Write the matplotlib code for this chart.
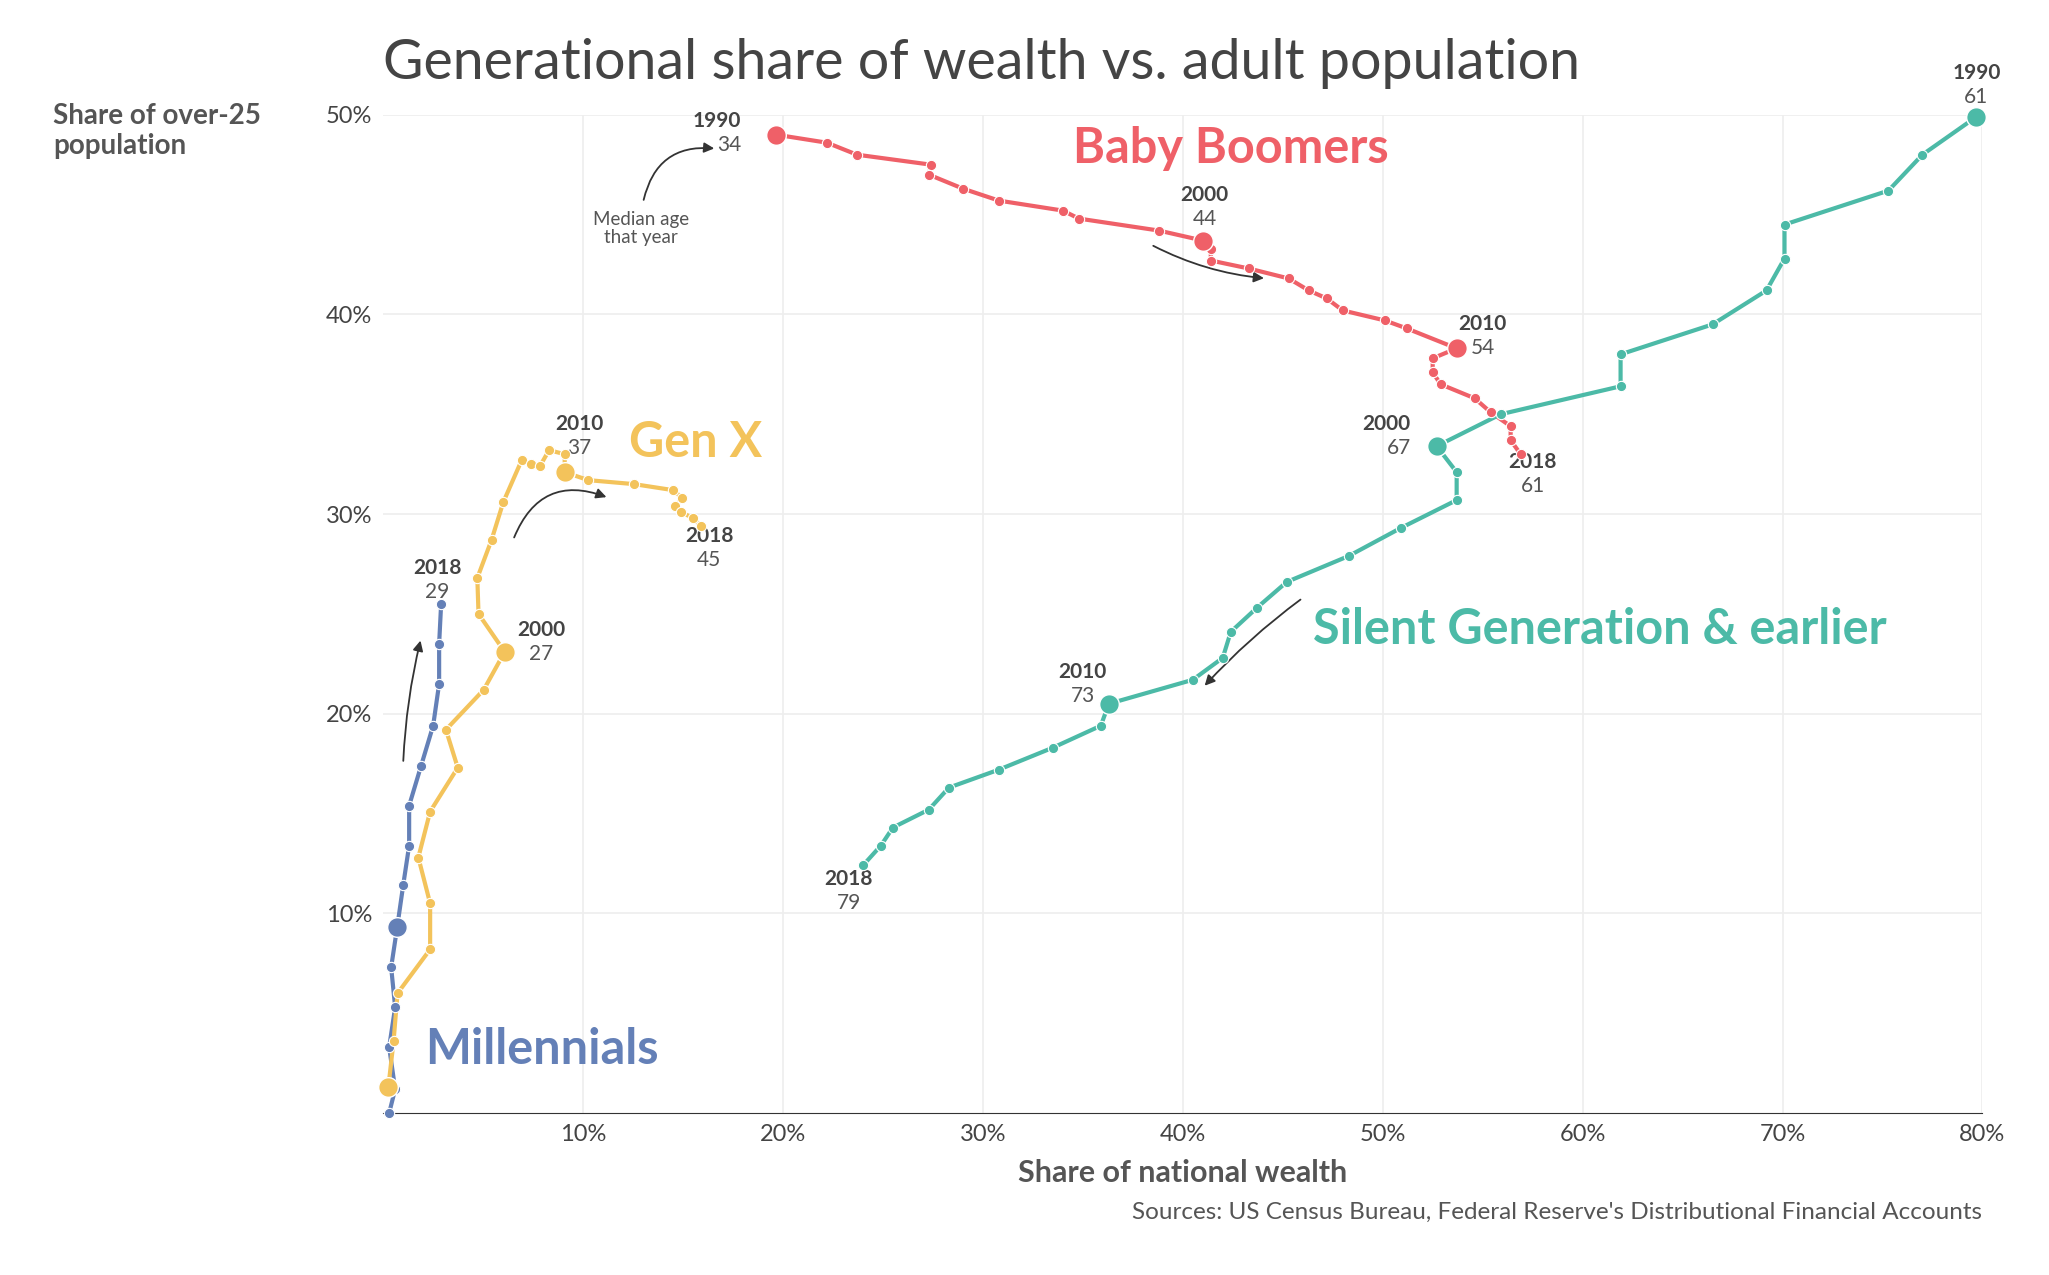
import matplotlib
matplotlib.use("Agg")
import matplotlib.pyplot as plt

years_full = list(range(1990, 2019))
mill_years = list(range(2005, 2019))
mill_x = [0.3,0.6,0.3,0.6,0.4,0.7,1.0,1.3,1.3,1.9,2.5,2.8,2.8,2.9]
mill_y = [0,1.2,3.3,5.3,7.3,9.3,11.4,13.4,15.4,17.4,19.4,21.5,23.5,25.5]
genx_x = [0.26,0.52,0.72,2.35,2.35,1.76,2.35,3.73,3.14,5.03,6.08,4.77,4.71,5.42,6.01,6.93,7.39,7.84,8.3,9.08,9.08,10.26,12.55,14.5,14.97,14.6,14.9,15.5,15.9]
genx_y = [1.31,3.6,6.0,8.2,10.5,12.8,15.1,17.3,19.2,21.2,23.1,25.0,26.8,28.7,30.6,32.7,32.5,32.4,33.2,33.0,32.1,31.7,31.5,31.2,30.8,30.4,30.1,29.8,29.4]
boom_x = [19.67,22.2,23.7,27.4,27.3,29.0,30.8,34.0,34.8,38.8,41.0,41.4,41.4,43.3,45.3,46.3,47.2,48.0,50.1,51.2,53.7,52.5,52.5,52.9,54.6,55.4,56.4,56.4,56.9]
boom_y = [49.0,48.6,48.0,47.5,47.0,46.3,45.7,45.2,44.8,44.2,43.7,43.3,42.7,42.3,41.8,41.2,40.8,40.2,39.7,39.3,38.3,37.8,37.1,36.5,35.8,35.1,34.4,33.7,33.0]
silent_x = [79.7,77.0,75.3,70.1,70.1,69.2,66.5,61.9,61.9,55.9,52.7,53.7,53.7,50.9,48.3,45.2,43.7,42.4,42.0,40.5,36.3,35.9,33.5,30.8,28.3,27.3,25.5,24.9,24.0]
silent_y = [49.9,48.0,46.2,44.5,42.8,41.2,39.5,38.0,36.4,35.0,33.4,32.1,30.7,29.3,27.9,26.6,25.3,24.1,22.8,21.7,20.5,19.4,18.3,17.2,16.3,15.2,14.3,13.4,12.4]

x_ticks = [10,20,30,40,50,60,70,80]
y_ticks = [10,20,30,40,50]

RED, YEL, BLU, TEAL = "#ef6068", "#f3c35b", "#6480b7", "#4cbaa7"
DARK, GREY = "#444444", "#555555"
plt.rcParams["font.family"] = "Lato"

fig = plt.figure(figsize=(20.49, 12.75), dpi=100)
ax = fig.add_axes([0.187, 0.127, 0.7805, 0.783])
ax.set_xlim(0, 80); ax.set_ylim(0, 50)

series = [(mill_years, mill_x, mill_y, BLU), (years_full, genx_x, genx_y, YEL),
          (years_full, boom_x, boom_y, RED), (years_full, silent_x, silent_y, TEAL)]
for yrs, xs, ys, c in series:
    ax.plot(xs, ys, color=c, lw=3, zorder=3, clip_on=False)
    ax.scatter(xs, ys, s=55, color=c, zorder=4, edgecolor="white", linewidth=0.8, clip_on=False)
    big = [i for i, y in enumerate(yrs) if y in (1990, 2000, 2010)]
    ax.scatter([xs[i] for i in big], [ys[i] for i in big], s=200, color=c, zorder=5,
               edgecolor="white", linewidth=1, clip_on=False)

ax.set_xticks(x_ticks); ax.set_xticklabels([f"{t}%" for t in x_ticks])
ax.set_yticks(y_ticks); ax.set_yticklabels([f"{t}%" for t in y_ticks])
ax.tick_params(length=0, labelsize=17, colors=DARK, pad=8)
ax.grid(True, color="#eeeeee", lw=1.2)
for s in ["top", "right", "left"]:
    ax.spines[s].set_visible(False)
ax.spines["bottom"].set_color("#333333")
ax.set_axisbelow(True)

fig.text(0.187, 0.95, "Generational share of wealth vs. adult population", fontsize=40, color=DARK, va="center")
fig.text(0.026, 0.897, "Share of over-25\npopulation", fontsize=20, fontweight="bold", color=GREY, va="center", linespacing=1.2)
ax.set_xlabel("Share of national wealth", fontsize=22, fontweight="bold", color=GREY, labelpad=10)
fig.text(0.9675, 0.044, "Sources: US Census Bureau, Federal Reserve's Distributional Financial Accounts", fontsize=17.5, color=GREY, ha="right")

ax.text(34.5, 48.3, "Baby Boomers", fontsize=35, fontweight="bold", color=RED, va="center")
ax.text(12.3, 33.6, "Gen X", fontsize=35, fontweight="bold", color=YEL, va="center")
ax.text(2.1, 3.2, "Millennials", fontsize=35, fontweight="bold", color=BLU, va="center")
ax.text(46.5, 24.2, "Silent Generation & earlier", fontsize=35, fontweight="bold", color=TEAL, va="center")

def lab(x, y, yr, age, ha="center"):
    ax.text(x, y, str(yr), fontsize=15, fontweight="bold", color=DARK, ha=ha, va="bottom")
    ax.text(x, y - 0.2, str(age), fontsize=15, color=GREY, ha=ha, va="top")

lab(17.9, 49.2, 1990, 34, "right"); lab(41.1, 45.5, 2000, 44); lab(55.0, 39.0, 2010, 54, "center")
lab(57.5, 32.1, 2018, 61, "center")
lab(79.7, 51.6, 1990, 61); lab(51.4, 34.0, 2000, 67, "right"); lab(35.0, 21.6, 2010, 73)
lab(23.3, 11.2, 2018, 79)
lab(9.8, 34.0, 2010, 37); lab(16.3, 28.4, 2018, 45); lab(7.9, 23.7, 2000, 27, "center")
lab(2.7, 26.8, 2018, 29)

ax.text(12.9, 44.3, "Median age\nthat year", fontsize=13.5, color=GREY, ha="center", va="center", linespacing=1.1)
arw = dict(arrowstyle="-|>", color="#333333", lw=1.3, mutation_scale=15)
ax.annotate("", xy=(16.7, 48.3), xytext=(13.0, 45.6), arrowprops=dict(arw, connectionstyle="arc3,rad=-0.45"))
ax.annotate("", xy=(44.2, 41.8), xytext=(38.4, 43.5), arrowprops=dict(arw, connectionstyle="arc3,rad=0.1"))
ax.annotate("", xy=(11.3, 30.8), xytext=(6.5, 28.7), arrowprops=dict(arw, connectionstyle="arc3,rad=-0.5"))
ax.annotate("", xy=(1.9, 23.8), xytext=(1.0, 17.5), arrowprops=dict(arw, connectionstyle="arc3,rad=-0.05"))
ax.annotate("", xy=(41.0, 21.3), xytext=(46.0, 25.8), arrowprops=dict(arw, connectionstyle="arc3,rad=0.05"))

fig.savefig("out.png", dpi=100, facecolor="white")
